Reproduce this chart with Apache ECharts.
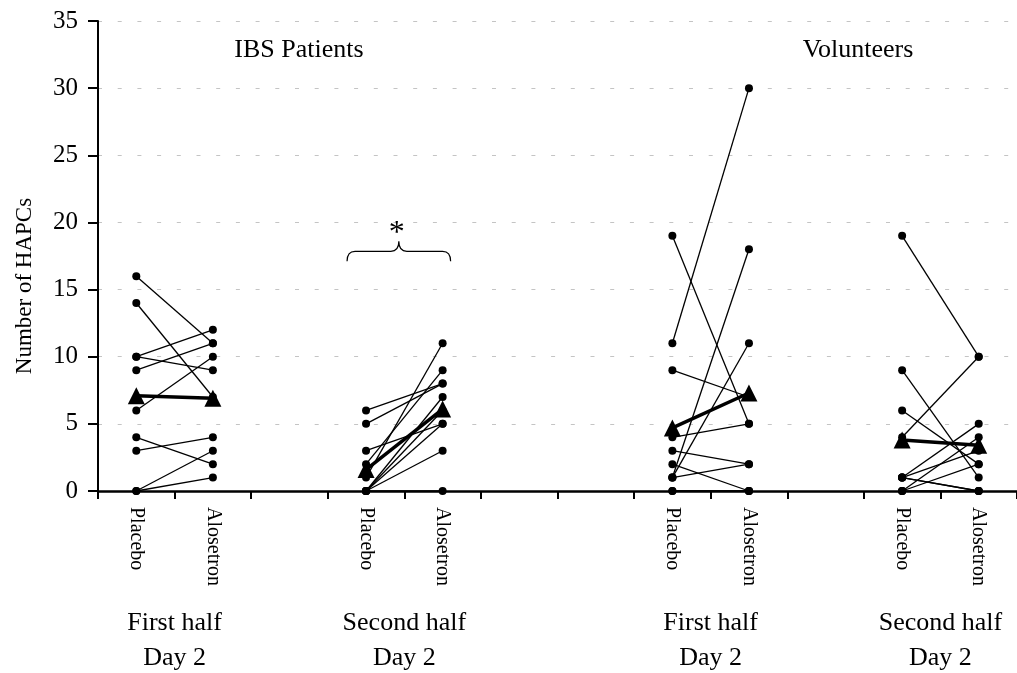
<!DOCTYPE html>
<html>
<head>
<meta charset="utf-8">
<script src="https://cdn.jsdelivr.net/npm/echarts@6/dist/echarts.min.js"></script>
<style>
  html, body { margin: 0; padding: 0; background: #fff; }
  #chart { width: 1017px; height: 673px; }
</style>
</head>
<body>
<div id="chart"></div>
<script>
// Treatment slots along the x axis (blank slots separate the periods)
const categories = ['Placebo', 'Alosetron', '', 'Placebo', 'Alosetron', '', '', 'Placebo', 'Alosetron', '', 'Placebo', 'Alosetron'];

// Category index pairs (placebo, alosetron) for each period
const periodSlots = [[0, 1], [3, 4], [7, 8], [10, 11]];
const periodLabels = ['First half\nDay 2', 'Second half\nDay 2', 'First half\nDay 2', 'Second half\nDay 2'];
const cohortTitles = ['IBS Patients', 'Volunteers'];

// Number of HAPCs per subject: placebo day vs alosetron day
const ibsFirstPlacebo    = [16, 14, 10, 10, 9, 6, 4, 3, 0, 0];
const ibsFirstAlosetron  = [11, 7, 12, 9, 11, 10, 2, 4, 3, 1];
const ibsSecondPlacebo   = [6, 5, 3, 2, 1, 0, 0, 0, 0, 0];
const ibsSecondAlosetron = [8, 8, 5, 9, 11, 7, 6, 5, 3, 0];
const volFirstPlacebo    = [19, 11, 9, 4, 3, 2, 1, 1, 1, 0, 0];
const volFirstAlosetron  = [5, 30, 7, 5, 2, 0, 2, 18, 11, 0, 0];
const volSecondPlacebo   = [19, 4, 9, 6, 1, 1, 1, 0, 0, 0, 1];
const volSecondAlosetron = [10, 10, 1, 2, 5, 3, 0, 4, 2, 0, 0];

// Group means (triangles), one per period
const meanPlacebo   = [7.1, 1.6, 4.7, 3.8];
const meanAlosetron = [6.9, 6.1, 7.3, 3.4];

// Y axis scale
const yMin = 0, yMax = 35, yStep = 5;

const FONT = "'Liberation Serif', 'Times New Roman', serif";

const subjectGroups = [
  [ibsFirstPlacebo, ibsFirstAlosetron],
  [ibsSecondPlacebo, ibsSecondAlosetron],
  [volFirstPlacebo, volFirstAlosetron],
  [volSecondPlacebo, volSecondAlosetron]
];

const series = [];
subjectGroups.forEach(function (pair, g) {
  const slots = periodSlots[g];
  pair[0].forEach(function (p, i) {
    series.push({
      type: 'line',
      data: [[slots[0], p], [slots[1], pair[1][i]]],
      symbol: 'circle',
      symbolSize: 8,
      lineStyle: { color: '#000', width: 1.3 },
      itemStyle: { color: '#000' },
      silent: true,
      animation: false,
      z: 3
    });
  });
});
periodSlots.forEach(function (slots, g) {
  series.push({
    type: 'line',
    data: [[slots[0], meanPlacebo[g]], [slots[1], meanAlosetron[g]]],
    symbol: 'triangle',
    symbolSize: 17,
    lineStyle: { color: '#000', width: 3.5 },
    itemStyle: { color: '#000' },
    silent: true,
    animation: false,
    z: 4
  });
});

// Period captions below the treatment labels
series.push({
  type: 'custom',
  data: periodSlots.map(function (s, i) { return [s[0], s[1], i]; }),
  clip: false,
  silent: true,
  animation: false,
  renderItem: function (params, api) {
    const a = api.coord([api.value(0), 0]);
    const b = api.coord([api.value(1), 0]);
    return {
      type: 'text',
      style: {
        x: (a[0] + b[0]) / 2,
        y: a[1] + 150,
        text: periodLabels[api.value(2)],
        font: '26px ' + FONT,
        fill: '#000',
        align: 'center',
        verticalAlign: 'middle',
        lineHeight: 35
      }
    };
  }
});

// Significance brace over the IBS second-half pair
series.push({
  type: 'custom',
  data: [[3, 4, 17.1]],
  clip: false,
  silent: true,
  animation: false,
  z: 5,
  renderItem: function (params, api) {
    const p0 = api.coord([api.value(0), api.value(2)]);
    const p1 = api.coord([api.value(1), api.value(2)]);
    const x0 = p0[0] - 19, x1 = p1[0] + 8, xc = (x0 + x1) / 2;
    const yb = p0[1], ym = yb - 10, yt = yb - 20, r = 8;
    const d = 'M' + x0 + ',' + yb + ' Q' + x0 + ',' + ym + ' ' + (x0 + r) + ',' + ym +
      ' L' + (xc - r) + ',' + ym + ' Q' + xc + ',' + ym + ' ' + xc + ',' + yt +
      ' Q' + xc + ',' + ym + ' ' + (xc + r) + ',' + ym +
      ' L' + (x1 - r) + ',' + ym + ' Q' + x1 + ',' + ym + ' ' + x1 + ',' + yb;
    return {
      type: 'group',
      children: [
        { type: 'path', shape: { pathData: d }, style: { stroke: '#000', lineWidth: 1.2, fill: null } },
        { type: 'text', style: { x: xc - 2, y: yt - 8, text: '*', font: '32px ' + FONT, fill: '#000', align: 'center', verticalAlign: 'middle' } }
      ]
    };
  }
});

const chart = echarts.init(document.getElementById('chart'), null, { renderer: 'canvas' });
chart.setOption({
  backgroundColor: '#fff',
  animation: false,
  grid: { left: 98, top: 21, width: 928, height: 470, containLabel: false },
  xAxis: {
    type: 'category',
    data: categories,
    boundaryGap: true,
    axisLine: { show: true, lineStyle: { color: '#000', width: 2.5 } },
    axisTick: { show: true, interval: 0, length: 8, lineStyle: { color: '#000', width: 2 } },
    axisLabel: { interval: 0, rotate: -90, margin: 16, fontSize: 20, fontFamily: FONT, color: '#000' },
    splitLine: { show: false }
  },
  yAxis: {
    type: 'value',
    min: yMin, max: yMax, interval: yStep,
    axisLine: { show: true, lineStyle: { color: '#000', width: 2 } },
    axisTick: { show: true, length: 10, lineStyle: { color: '#000', width: 2 } },
    axisLabel: { margin: 20, fontSize: 25, fontFamily: FONT, color: '#000' },
    splitLine: { show: true, lineStyle: { color: '#c4c4c4', width: 1, type: [4, 15.7] } }
  },
  graphic: [
    { type: 'text', x: 299, y: 50, style: { text: cohortTitles[0], font: '26px ' + FONT, fill: '#000', align: 'center', verticalAlign: 'middle' } },
    { type: 'text', x: 858, y: 50, style: { text: cohortTitles[1], font: '26px ' + FONT, fill: '#000', align: 'center', verticalAlign: 'middle' } },
    { type: 'text', x: 25, y: 286, rotation: Math.PI / 2, style: { text: 'Number of HAPCs', font: '23px ' + FONT, fill: '#000', align: 'center', verticalAlign: 'middle' } }
  ],
  series: series
});
</script>
</body>
</html>
